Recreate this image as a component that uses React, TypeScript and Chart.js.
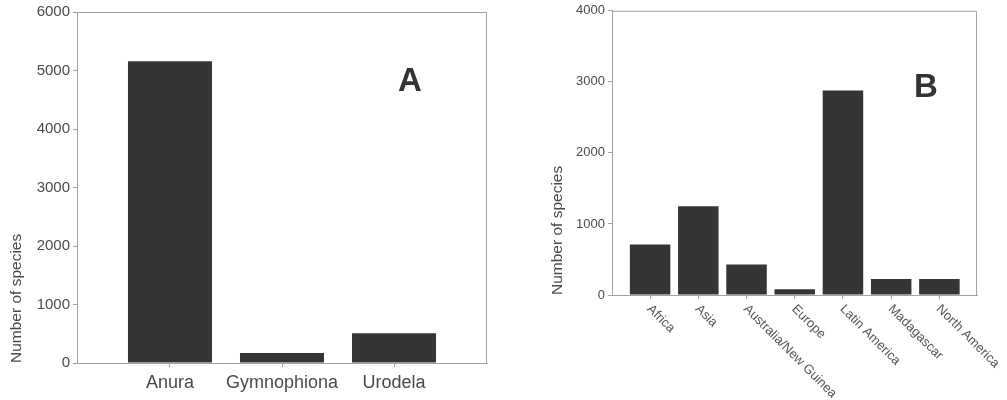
import { useEffect, useRef } from "react";
import { Chart, registerables } from "chart.js";

Chart.register(...registerables);

// ---- Data ----
const taxaLabels = ["Anura", "Gymnophiona", "Urodela"];
const taxaCounts = [5160, 170, 510];
const taxaTicks = [0, 1000, 2000, 3000, 4000, 5000, 6000];

const regionLabels = [
  "Africa",
  "Asia",
  "Australia/New Guinea",
  "Europe",
  "Latin America",
  "Madagascar",
  "North America",
];
const regionCounts = [710, 1250, 430, 80, 2880, 225, 225];
const regionTicks = [0, 1000, 2000, 3000, 4000];

const yTitle = "Number of species";
const FONT = '"Liberation Sans", Arial, Helvetica, sans-serif';
const AXIS = "#a2a2a2";
const TEXT = "#4a4a4a";
const BAR = "#353535";

function framePlugin(letter: string, letterFont: number, dx: number, dy: number) {
  return {
    id: "frame" + letter,
    afterDraw(chart: any) {
      const { ctx, chartArea } = chart;
      ctx.save();
      ctx.strokeStyle = AXIS;
      ctx.lineWidth = 1;
      ctx.beginPath();
      ctx.moveTo(chartArea.left + 0.5, chartArea.top + 0.5);
      ctx.lineTo(chartArea.right - 0.5, chartArea.top + 0.5);
      ctx.lineTo(chartArea.right - 0.5, chartArea.bottom);
      ctx.stroke();
      ctx.fillStyle = "#333333";
      ctx.font = `bold ${letterFont}px ${FONT}`;
      ctx.textAlign = "center";
      ctx.textBaseline = "middle";
      ctx.fillText(letter, chartArea.right - dx, chartArea.top + dy);
      ctx.restore();
    },
  };
}

const rotatedLabels = {
  id: "rotatedLabels",
  afterDraw(chart: any) {
    const { ctx } = chart;
    const xs = chart.scales.x;
    ctx.save();
    ctx.fillStyle = "#555555";
    ctx.font = `13px ${FONT}`;
    ctx.textAlign = "left";
    ctx.textBaseline = "middle";
    regionLabels.forEach((lab, i) => {
      const px = xs.getPixelForValue(i);
      ctx.save();
      ctx.translate(px - 1, xs.top + 12);
      ctx.rotate(Math.PI / 4);
      ctx.fillText(lab, 0, 0);
      ctx.restore();
    });
    ctx.restore();
  },
};

function makeConfig(
  labels: string[],
  counts: number[],
  ticks: number[],
  opts: {
    xMin: number;
    xMax: number;
    barPct: number;
    yWidth: number;
    xHeight: number;
    padRight: number;
    yTickFont: number;
    titlePad: number;
    showXLabels: boolean;
    xTickFont: number;
    plugins: any[];
  }
): any {
  return {
    type: "bar",
    data: {
      datasets: [
        {
          data: counts.map((y, i) => ({ x: i, y })),
          backgroundColor: BAR,
          borderWidth: 0,
          barPercentage: opts.barPct,
          categoryPercentage: 1,
        },
      ],
    },
    options: {
      responsive: false,
      animation: false,
      devicePixelRatio: 1,
      layout: { padding: { left: 0, top: 10, right: opts.padRight, bottom: 0 } },
      plugins: { legend: { display: false }, tooltip: { enabled: false } },
      scales: {
        x: {
          type: "linear",
          min: opts.xMin,
          max: opts.xMax,
          offset: false,
          afterBuildTicks: (scale: any) => {
            scale.ticks = labels.map((_, i) => ({ value: i }));
          },
          afterFit: (scale: any) => {
            scale.height = opts.xHeight;
          },
          grid: {
            offset: false,
            drawOnChartArea: false,
            drawTicks: true,
            tickLength: 4,
            color: AXIS,
          },
          border: { display: true, color: AXIS },
          ticks: {
            display: opts.showXLabels,
            autoSkip: false,
            maxRotation: 0,
            minRotation: 0,
            padding: 5,
            color: TEXT,
            font: { family: FONT, size: opts.xTickFont },
            callback: (v: number) => labels[Math.round(v)] ?? "",
          },
        },
        y: {
          type: "linear",
          min: ticks[0],
          max: ticks[ticks.length - 1],
          afterBuildTicks: (scale: any) => {
            scale.ticks = ticks.map((v) => ({ value: v }));
          },
          afterFit: (scale: any) => {
            scale.width = opts.yWidth;
          },
          grid: {
            drawOnChartArea: false,
            drawTicks: true,
            tickLength: 4,
            color: AXIS,
          },
          border: { display: true, color: AXIS },
          ticks: {
            padding: 3,
            color: TEXT,
            font: { family: FONT, size: opts.yTickFont },
            callback: (v: number) => String(v),
          },
          title: {
            display: true,
            text: yTitle,
            align: "start",
            color: TEXT,
            font: { family: FONT, size: 15.5 },
            padding: { top: opts.titlePad, bottom: 0 },
          },
        },
      },
    },
    plugins: opts.plugins,
  };
}

function ChartCanvas({ config, width, left }: { config: any; width: number; left: number }) {
  const ref = useRef<HTMLCanvasElement | null>(null);
  useEffect(() => {
    if (!ref.current) return;
    const chart = new Chart(ref.current, config);
    return () => chart.destroy();
  }, [config]);
  return (
    <canvas
      ref={ref}
      width={width}
      height={400}
      style={{ position: "absolute", left, top: 0, width, height: 400 }}
    />
  );
}

const configA = makeConfig(taxaLabels, taxaCounts, taxaTicks, {
  xMin: -0.83,
  xMax: 2.83,
  barPct: 0.75,
  yWidth: 77,
  xHeight: 37,
  padRight: 33,
  yTickFont: 15,
  titlePad: 7,
  showXLabels: true,
  xTickFont: 18,
  plugins: [framePlugin("A", 33, 77, 70)],
});

const configB = makeConfig(regionLabels, regionCounts, regionTicks, {
  xMin: -0.79,
  xMax: 6.78,
  barPct: 0.84,
  yWidth: 92,
  xHeight: 105,
  padRight: 30,
  yTickFont: 13,
  titlePad: 28,
  showXLabels: false,
  xTickFont: 13,
  plugins: [framePlugin("B", 33, 51, 77), rotatedLabels],
});

export default function App() {
  useEffect(() => {
    document.body.style.margin = "0";
  }, []);
  return (
    <div style={{ position: "relative", width: 1007, height: 400, background: "#fff" }}>
      <ChartCanvas config={configA} width={520} left={0} />
      <ChartCanvas config={configB} width={487} left={520} />
    </div>
  );
}
